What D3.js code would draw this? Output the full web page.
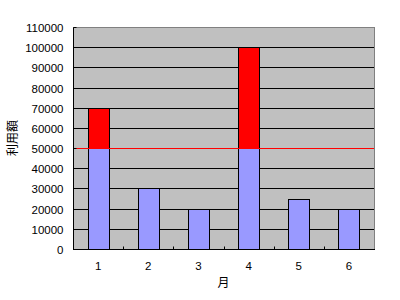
<!DOCTYPE html>
<html>
<head>
<meta charset="utf-8">
<script src="https://cdn.jsdelivr.net/npm/d3@7"></script>
<style>
  html, body { margin: 0; padding: 0; background: #fff; }
  svg { display: block; }
  text { font-family: "Liberation Sans", Arial, "Noto Sans CJK JP", sans-serif; fill: #000; }
</style>
</head>
<body>
<div id="chart"></div>
<script>
(function () {
  // data
  const months = ["1", "2", "3", "4", "5", "6"];
  const amounts = [70000, 30000, 20000, 100000, 25000, 20000];
  const limit = 50000;
  const yTicks = [0, 10000, 20000, 30000, 40000, 50000, 60000, 70000, 80000, 90000, 100000, 110000];

  const WIDTH = 400, HEIGHT = 300;
  const margin = { top: 27, right: 26, bottom: 51, left: 73 };
  const w = WIDTH - margin.left - margin.right;
  const h = HEIGHT - margin.top - margin.bottom;

  const rows = months.map((m, i) => ({ month: m, value: amounts[i] }));

  const svg = d3.select("#chart").append("svg")
    .attr("width", WIDTH)
    .attr("height", HEIGHT);

  const g = svg.append("g")
    .attr("transform", `translate(${margin.left},${margin.top})`);

  const x = d3.scaleBand().domain(months).range([0, w]).paddingInner(0.58).paddingOuter(0.29);
  const xc = d3.scaleBand().domain(months).range([0, w]); // category slots for ticks
  const y = d3.scaleLinear().domain([0, 110000]).range([h, 0]);
  const py = v => Math.round(y(v)) + 0.5;

  // plot background
  g.append("rect")
    .attr("x", 0.5).attr("y", 0.5)
    .attr("width", w).attr("height", h)
    .attr("fill", "#c0c0c0")
    .attr("stroke", "#808080")
    .attr("stroke-width", 1);

  // gridlines
  g.append("g").selectAll("line")
    .data(yTicks.filter(d => d > 0 && d < 110000))
    .enter().append("line")
    .attr("x1", 0).attr("x2", w)
    .attr("y1", d => py(d)).attr("y2", d => py(d))
    .attr("stroke", "#000").attr("stroke-width", 1);

  // bars: part under the limit in blue, the excess in red
  const bars = g.append("g").selectAll("g.bar")
    .data(rows)
    .enter().append("g").attr("class", "bar");

  bars.append("rect")
    .attr("x", d => Math.round(x(d.month)) + 0.5)
    .attr("width", Math.round(x.bandwidth()))
    .attr("y", d => py(Math.min(d.value, limit)))
    .attr("height", d => py(0) - py(Math.min(d.value, limit)))
    .attr("fill", "#9999ff")
    .attr("stroke", "#000").attr("stroke-width", 1);

  bars.filter(d => d.value > limit).append("rect")
    .attr("x", d => Math.round(x(d.month)) + 0.5)
    .attr("width", Math.round(x.bandwidth()))
    .attr("y", d => py(d.value))
    .attr("height", d => py(limit) - py(d.value))
    .attr("fill", "#ff0000")
    .attr("stroke", "#000").attr("stroke-width", 1);

  // limit line
  g.append("line")
    .attr("x1", 0).attr("x2", w)
    .attr("y1", py(limit)).attr("y2", py(limit))
    .attr("stroke", "#ff0000").attr("stroke-width", 1);

  // y axis
  const yAxis = g.append("g").attr("transform", "translate(0.5,0)")
    .call(d3.axisLeft(y).tickValues(yTicks).tickFormat(d3.format("d")).tickSizeInner(-3).tickSizeOuter(0).tickPadding(10));
  yAxis.select(".domain").attr("stroke", "#000").attr("d", `M0,${py(110000)}V${py(0)}`);
  yAxis.selectAll(".tick").attr("transform", d => `translate(0,${py(d)})`);
  yAxis.selectAll(".tick line").attr("stroke", "#000");
  yAxis.selectAll(".tick text").style("font-size", "11.5px").attr("dy", "0.35em");

  // x axis: ticks between categories, labels centred
  const xAxis = g.append("g").attr("transform", `translate(0,${py(0)})`);
  xAxis.append("line")
    .attr("x1", 0).attr("x2", w + 1)
    .attr("stroke", "#000");
  xAxis.selectAll("line.tk")
    .data(months.slice(1))
    .enter().append("line").attr("class", "tk")
    .attr("x1", d => Math.round(xc(d)) + 0.5).attr("x2", d => Math.round(xc(d)) + 0.5)
    .attr("y1", 0).attr("y2", -3)
    .attr("stroke", "#000");
  xAxis.selectAll("text")
    .data(months)
    .enter().append("text")
    .attr("x", d => xc(d) + xc.bandwidth() / 2)
    .attr("y", 16)
    .attr("dy", "0.35em")
    .attr("text-anchor", "middle")
    .style("font-size", "11.5px")
    .text(d => d);

  // axis titles
  svg.append("text")
    .attr("x", margin.left + w / 2)
    .attr("y", 284)
    .attr("text-anchor", "middle")
    .attr("dominant-baseline", "middle")
    .style("font-size", "12px")
    .text("月");

  svg.append("text")
    .attr("transform", `translate(14,${margin.top + h / 2}) rotate(-90)`)
    .attr("text-anchor", "middle")
    .attr("dominant-baseline", "middle")
    .style("font-size", "12px")
    .text("利用額");
})();
</script>
</body>
</html>
